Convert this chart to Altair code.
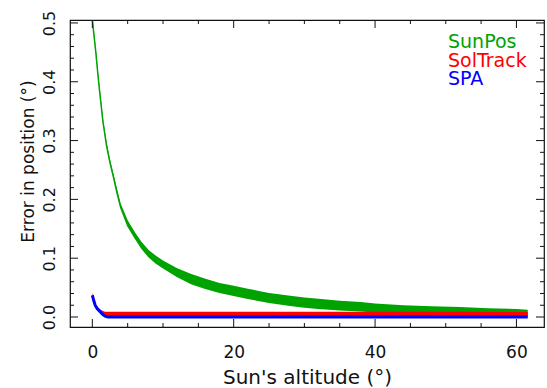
import altair as alt
import pandas as pd

# ---- data ----
green_x = [0, 0.25, 0.5, 0.75, 1, 1.5, 2, 2.5, 3, 3.5, 4, 5, 6, 7, 8, 9, 10, 12, 14, 16, 18, 20,
           22, 25, 28, 30, 32, 35, 38, 40, 44, 48, 52, 56, 60, 61.6]
green_lo = [0.506, 0.477, 0.449, 0.417, 0.387, 0.332, 0.292, 0.262, 0.237, 0.2105, 0.1865,
            0.1555, 0.1355, 0.117, 0.1025, 0.092, 0.084, 0.069, 0.057, 0.049, 0.042, 0.037,
            0.032, 0.025, 0.020, 0.017, 0.015, 0.0125, 0.0105, 0.009, 0.007, 0.0058, 0.005,
            0.004, 0.0042, 0.0045]
green_hi = [0.514, 0.483, 0.455, 0.423, 0.393, 0.338, 0.298, 0.268, 0.243, 0.2175, 0.1935,
            0.1645, 0.1445, 0.127, 0.1135, 0.104, 0.096, 0.083, 0.073, 0.065, 0.058, 0.053,
            0.048, 0.041, 0.036, 0.033, 0.031, 0.0275, 0.0255, 0.023, 0.020, 0.0182, 0.017,
            0.015, 0.0138, 0.0125]

red_x = [0, 0.2, 0.4, 0.7, 1.1, 1.5, 1.8, 2.2, 2.6, 10, 20, 30, 40, 50, 61.6]
red_lo = [0.035, 0.026, 0.018, 0.012, 0.007, 0.003, 0.001, 0.0, 0.0, 0.0, 0.0, 0.0, 0.0, 0.0, 0.0]
red_hi = [0.041, 0.032, 0.024, 0.018, 0.013, 0.010, 0.009, 0.0088, 0.0088, 0.009, 0.0088,
          0.009, 0.0088, 0.0088, 0.0085]

blue_x = [0, 0.2, 0.4, 0.7, 1.1, 1.5, 1.8, 2.2, 2.6, 61.6]
blue_y = [0.037, 0.028, 0.020, 0.014, 0.009, 0.004, 0.0015, 0.0002, 0.0, 0.0]

x_major = [0, 20, 40, 60]
x_minor = [5, 10, 15, 25, 30, 35, 45, 50, 55]
y_major = [0.0, 0.1, 0.2, 0.3, 0.4, 0.5]
y_minor = [0.02, 0.04, 0.06, 0.08, 0.12, 0.14, 0.16, 0.18, 0.22, 0.24, 0.26, 0.28,
           0.32, 0.34, 0.36, 0.38, 0.42, 0.44, 0.46, 0.48]

series_names = ["SunPos", "SolTrack", "SPA"]
series_colors = ["#00a300", "#ff0000", "#0000ff"]

W, H = 474, 307
FONT = "DejaVu Sans"

xscale = alt.Scale(domain=[-3.16, 63.9], nice=False, zero=False)
yscale = alt.Scale(domain=[-0.017, 0.505], nice=False, zero=False)

x_axis = alt.Axis(values=x_major, title="Sun's altitude (°)", grid=False, ticks=False,
                  tickSize=0, domain=False, labelFontSize=17, labelPadding=17,
                  labelFont=FONT, labelColor="#111", titleFont=FONT, titleFontSize=20,
                  titleFontWeight="normal", titleColor="#111", titleBaseline="alphabetic",
                  titleY=56)
y_axis = alt.Axis(values=y_major, format=".1f", title="Error in position (°)", grid=False,
                  ticks=False, tickSize=0, domain=False, labelFontSize=16, labelAngle=270,
                  labelAlign="center", labelBaseline="alphabetic", labelPadding=16,
                  labelFont=FONT, labelColor="#111", titleFont=FONT, titleFontSize=17,
                  titleFontWeight="normal", titleColor="#111", titleAngle=270,
                  titleAlign="center", titleBaseline="alphabetic", titleX=-37,
                  titleY=141)


def X(field):
    return alt.X(field, scale=xscale, axis=x_axis)


def Y(field):
    return alt.Y(field, scale=yscale, axis=y_axis)


green = pd.DataFrame({"x": green_x, "lo": green_lo, "hi": green_hi})
red = pd.DataFrame({"x": red_x, "lo": red_lo, "hi": red_hi})
blue = pd.DataFrame({"x": blue_x, "y": blue_y})

green_area = alt.Chart(green).mark_area(color=series_colors[0], clip=True).encode(
    x=X("x:Q"), y=Y("lo:Q"), y2="hi:Q")
green_line = alt.Chart(green).mark_line(color=series_colors[0], clip=True, strokeWidth=1.5).encode(
    x=X("x:Q"), y=Y("lo:Q"))
red_area = alt.Chart(red).mark_area(color=series_colors[1], clip=True).encode(
    x=X("x:Q"), y=Y("lo:Q"), y2="hi:Q")
blue_line = alt.Chart(blue).mark_line(color=series_colors[2], clip=True, strokeWidth=3).encode(
    x=X("x:Q"), y=Y("y:Q"))


def xticks(vals, length):
    df = pd.DataFrame({"v": vals})
    bottom = alt.Chart(df).mark_rule(color="#111", strokeWidth=1).encode(
        x=X("v:Q"), y=alt.value(H), y2=alt.value(H - length))
    top = alt.Chart(df).mark_rule(color="#111", strokeWidth=1).encode(
        x=X("v:Q"), y=alt.value(0), y2=alt.value(length))
    return [bottom, top]


def yticks(vals, length):
    df = pd.DataFrame({"v": vals})
    left = alt.Chart(df).mark_rule(color="#111", strokeWidth=1).encode(
        y=Y("v:Q"), x=alt.value(0), x2=alt.value(length))
    right = alt.Chart(df).mark_rule(color="#111", strokeWidth=1).encode(
        y=Y("v:Q"), x=alt.value(W), x2=alt.value(W - length))
    return [left, right]


legend_df = pd.DataFrame({"name": series_names, "c": series_colors})
legend_y = [28, 46.5, 65]
legend_layers = []
for i, (nm, col) in enumerate(zip(series_names, series_colors)):
    legend_layers.append(
        alt.Chart(legend_df.iloc[[i]]).mark_text(
            align="left", baseline="alphabetic", font=FONT, fontSize=19, color=col
        ).encode(text="name:N", x=alt.value(378), y=alt.value(legend_y[i]))
    )

layers = [green_area, green_line, red_area, blue_line]
layers += xticks(x_major, 8) + xticks(x_minor, 4) + yticks(y_major, 8) + yticks(y_minor, 4)
layers += legend_layers

chart = alt.layer(*layers).properties(
    width=W, height=H,
    autosize=alt.AutoSizeParams(type="none"),
    padding={"left": 70, "top": 20, "right": 3, "bottom": 61},
    background="white",
).configure_view(stroke="#111", strokeWidth=1.2)

chart.save("out.html", embed_options={"renderer": "svg", "actions": False})
